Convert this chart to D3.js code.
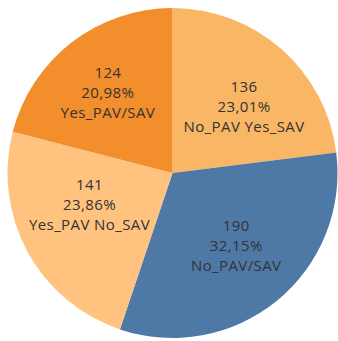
<!DOCTYPE html>
<html>
<head>
<meta charset="utf-8">
<script src="https://cdn.jsdelivr.net/npm/d3@7"></script>
<style>
  html, body { margin: 0; padding: 0; background: #fff; }
  svg { display: block; }
</style>
</head>
<body>
<svg id="chart" width="338" height="341"></svg>
<script>
// Counts per PAV/SAV group, clockwise from 12 o'clock
const categories = ["No_PAV Yes_SAV", "No_PAV/SAV", "Yes_PAV No_SAV", "Yes_PAV/SAV"];
const counts = [136, 190, 141, 124];
const colors = ["#F9B664", "#4E79A7", "#FFC27F", "#F28E2B"];

const width = 338, height = 341;
const cx = 172.5, cy = 173, radius = 165;

// Small per-slice shifts of the label block away from the arc centroid
const labelShift = [[6, 8], [1, -4], [4, -15], [-4, -2]];

const total = d3.sum(counts);
const data = categories.map((c, i) => ({ category: c, count: counts[i], color: colors[i], idx: i }));

const pie = d3.pie().value(d => d.count).sort(null);
const arcs = pie(data);

const arc = d3.arc().innerRadius(0).outerRadius(radius);
const labelArc = d3.arc().innerRadius(radius * 0.6).outerRadius(radius * 0.6);

const svg = d3.select("#chart");
const g = svg.append("g").attr("transform", `translate(${cx},${cy})`);

g.selectAll("path.slice")
  .data(arcs)
  .join("path")
  .attr("class", "slice")
  .attr("d", arc)
  .attr("fill", d => d.data.color);

const fmtPct = v => (v * 100).toFixed(2).replace(".", ",") + "%";

const labels = g.selectAll("text.label")
  .data(arcs)
  .join("text")
  .attr("class", "label")
  .attr("transform", d => {
    const [x, y] = labelArc.centroid(d);
    const [dx, dy] = labelShift[d.data.idx];
    return `translate(${x + dx},${y + dy})`;
  })
  .attr("text-anchor", "middle")
  .attr("font-family", "'Open Sans', 'Noto Sans', sans-serif")
  .attr("font-size", 15)
  .attr("letter-spacing", 0.4)
  .attr("fill", "#333333");

labels.each(function(d) {
  const t = d3.select(this);
  const lines = [String(d.data.count), fmtPct(d.data.count / total), d.data.category];
  lines.forEach((line, i) => {
    t.append("tspan")
      .attr("x", 0)
      .attr("y", (i - 1) * 20 + 5)
      .text(line);
  });
});
</script>
</body>
</html>
